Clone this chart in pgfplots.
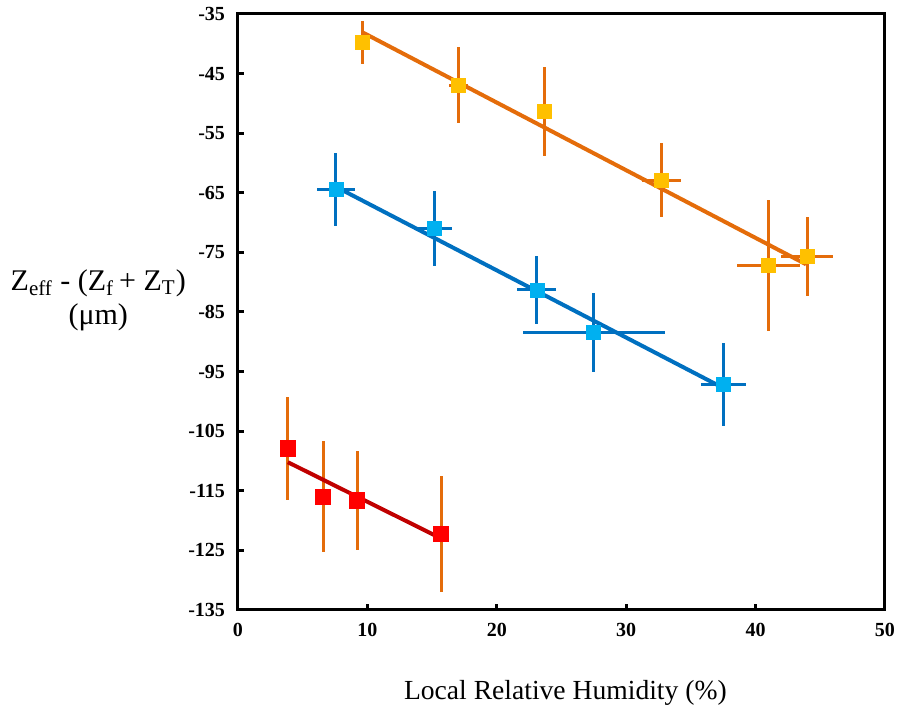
\documentclass[border=0pt]{standalone}
\usepackage{fontspec}
\setmainfont{Liberation Serif}
\usepackage{pgfplots}
\usepackage{pgfplotstable}
\pgfplotsset{compat=1.18}
\definecolor{orLine}{RGB}{228,108,10}
\definecolor{yel}{RGB}{255,192,0}
\definecolor{blLine}{RGB}{0,112,192}
\definecolor{blMark}{RGB}{0,176,240}
\definecolor{rdMark}{RGB}{255,0,0}
\definecolor{rdLine}{RGB}{192,0,0}

\pgfplotstableread{
x y ex ey
9.64 -39.8 0 3.65
17.04 -46.97 0.7 6.4
23.7 -51.4 0 7.45
32.7 -62.9 1.5 6.2
41.0 -77.2 2.4 11
44.0 -75.7 2.0 6.6
}\orangedata
\pgfplotstableread{
x y ex ey
7.57 -64.5 1.5 6.1
15.2 -71.0 1.35 6.25
23.1 -81.3 1.5 5.65
27.5 -88.4 5.5 6.6
37.5 -97.1 1.75 6.95
}\bluedata
\pgfplotstableread{
x y ex ey
3.85 -107.9 0 8.65
6.58 -116.0 0 9.3
9.21 -116.6 0 8.35
15.7 -122.2 0 9.7
}\reddata

\begin{document}
\begin{tikzpicture}
\useasboundingbox (-119pt,-50.5pt) rectangle (331.5pt,305pt);
\begin{axis}[
  scale only axis, width=323.5pt, height=298pt,
  xmin=0, xmax=50, ymin=-135, ymax=-35,
  xtick={0,10,...,50}, ytick={-135,-125,...,-35},
  axis line style={line width=1.5pt},
  tick style={line width=1.5pt, black},
  major tick length=3pt, tick align=inside,
  xtick pos=bottom, ytick pos=left,
  ticklabel style={font=\bfseries\fontsize{10}{12}\selectfont},
  /pgf/number format/assume math mode=true,
  yticklabel style={xshift=-3pt},
  xticklabel style={yshift=-3pt},
  clip=false,
  xlabel={Local Relative Humidity (\%)},
  xlabel style={at={(axis description cs:0.506,-0.139)}, anchor=center, font=\fontsize{13.8}{16}\selectfont},
  error bars/error mark=none,
]
\addplot[only marks, mark=square*, mark size=3.5pt, mark options={fill=yel, draw=yel},
  error bars/.cd, x dir=both, x explicit, y dir=both, y explicit,
  error bar style={line width=1.5pt, orLine}]
  table[x=x, y=y, x error=ex, y error=ey] {\orangedata};
\addplot[only marks, mark=square*, mark size=3.5pt, mark options={fill=blMark, draw=blMark},
  error bars/.cd, x dir=both, x explicit, y dir=both, y explicit,
  error bar style={line width=1.5pt, blLine}]
  table[x=x, y=y, x error=ex, y error=ey] {\bluedata};
\addplot[only marks, mark=square*, mark size=3.8pt, mark options={fill=rdMark, draw=rdMark},
  error bars/.cd, y dir=both, y explicit,
  error bar style={line width=1.5pt, orLine}]
  table[x=x, y=y, y error=ey] {\reddata};
\addplot[orLine, line width=2pt, no marks] coordinates {(9.64,-38.1) (43.9,-77.0)};
\addplot[blLine, line width=2pt, no marks] coordinates {(7.57,-64.0) (37.5,-97.75)};
\addplot[rdLine, line width=2pt, no marks] coordinates {(3.85,-110.2) (15.7,-123.0)};
\node[align=center, font=\fontsize{15}{17}\selectfont] at (axis description cs:-0.216,0.52)
  {Z\textsubscript{eff} - (Z\textsubscript{f}\,+ Z\textsubscript{T})\\(μm)};
\end{axis}
\end{tikzpicture}
\end{document}
